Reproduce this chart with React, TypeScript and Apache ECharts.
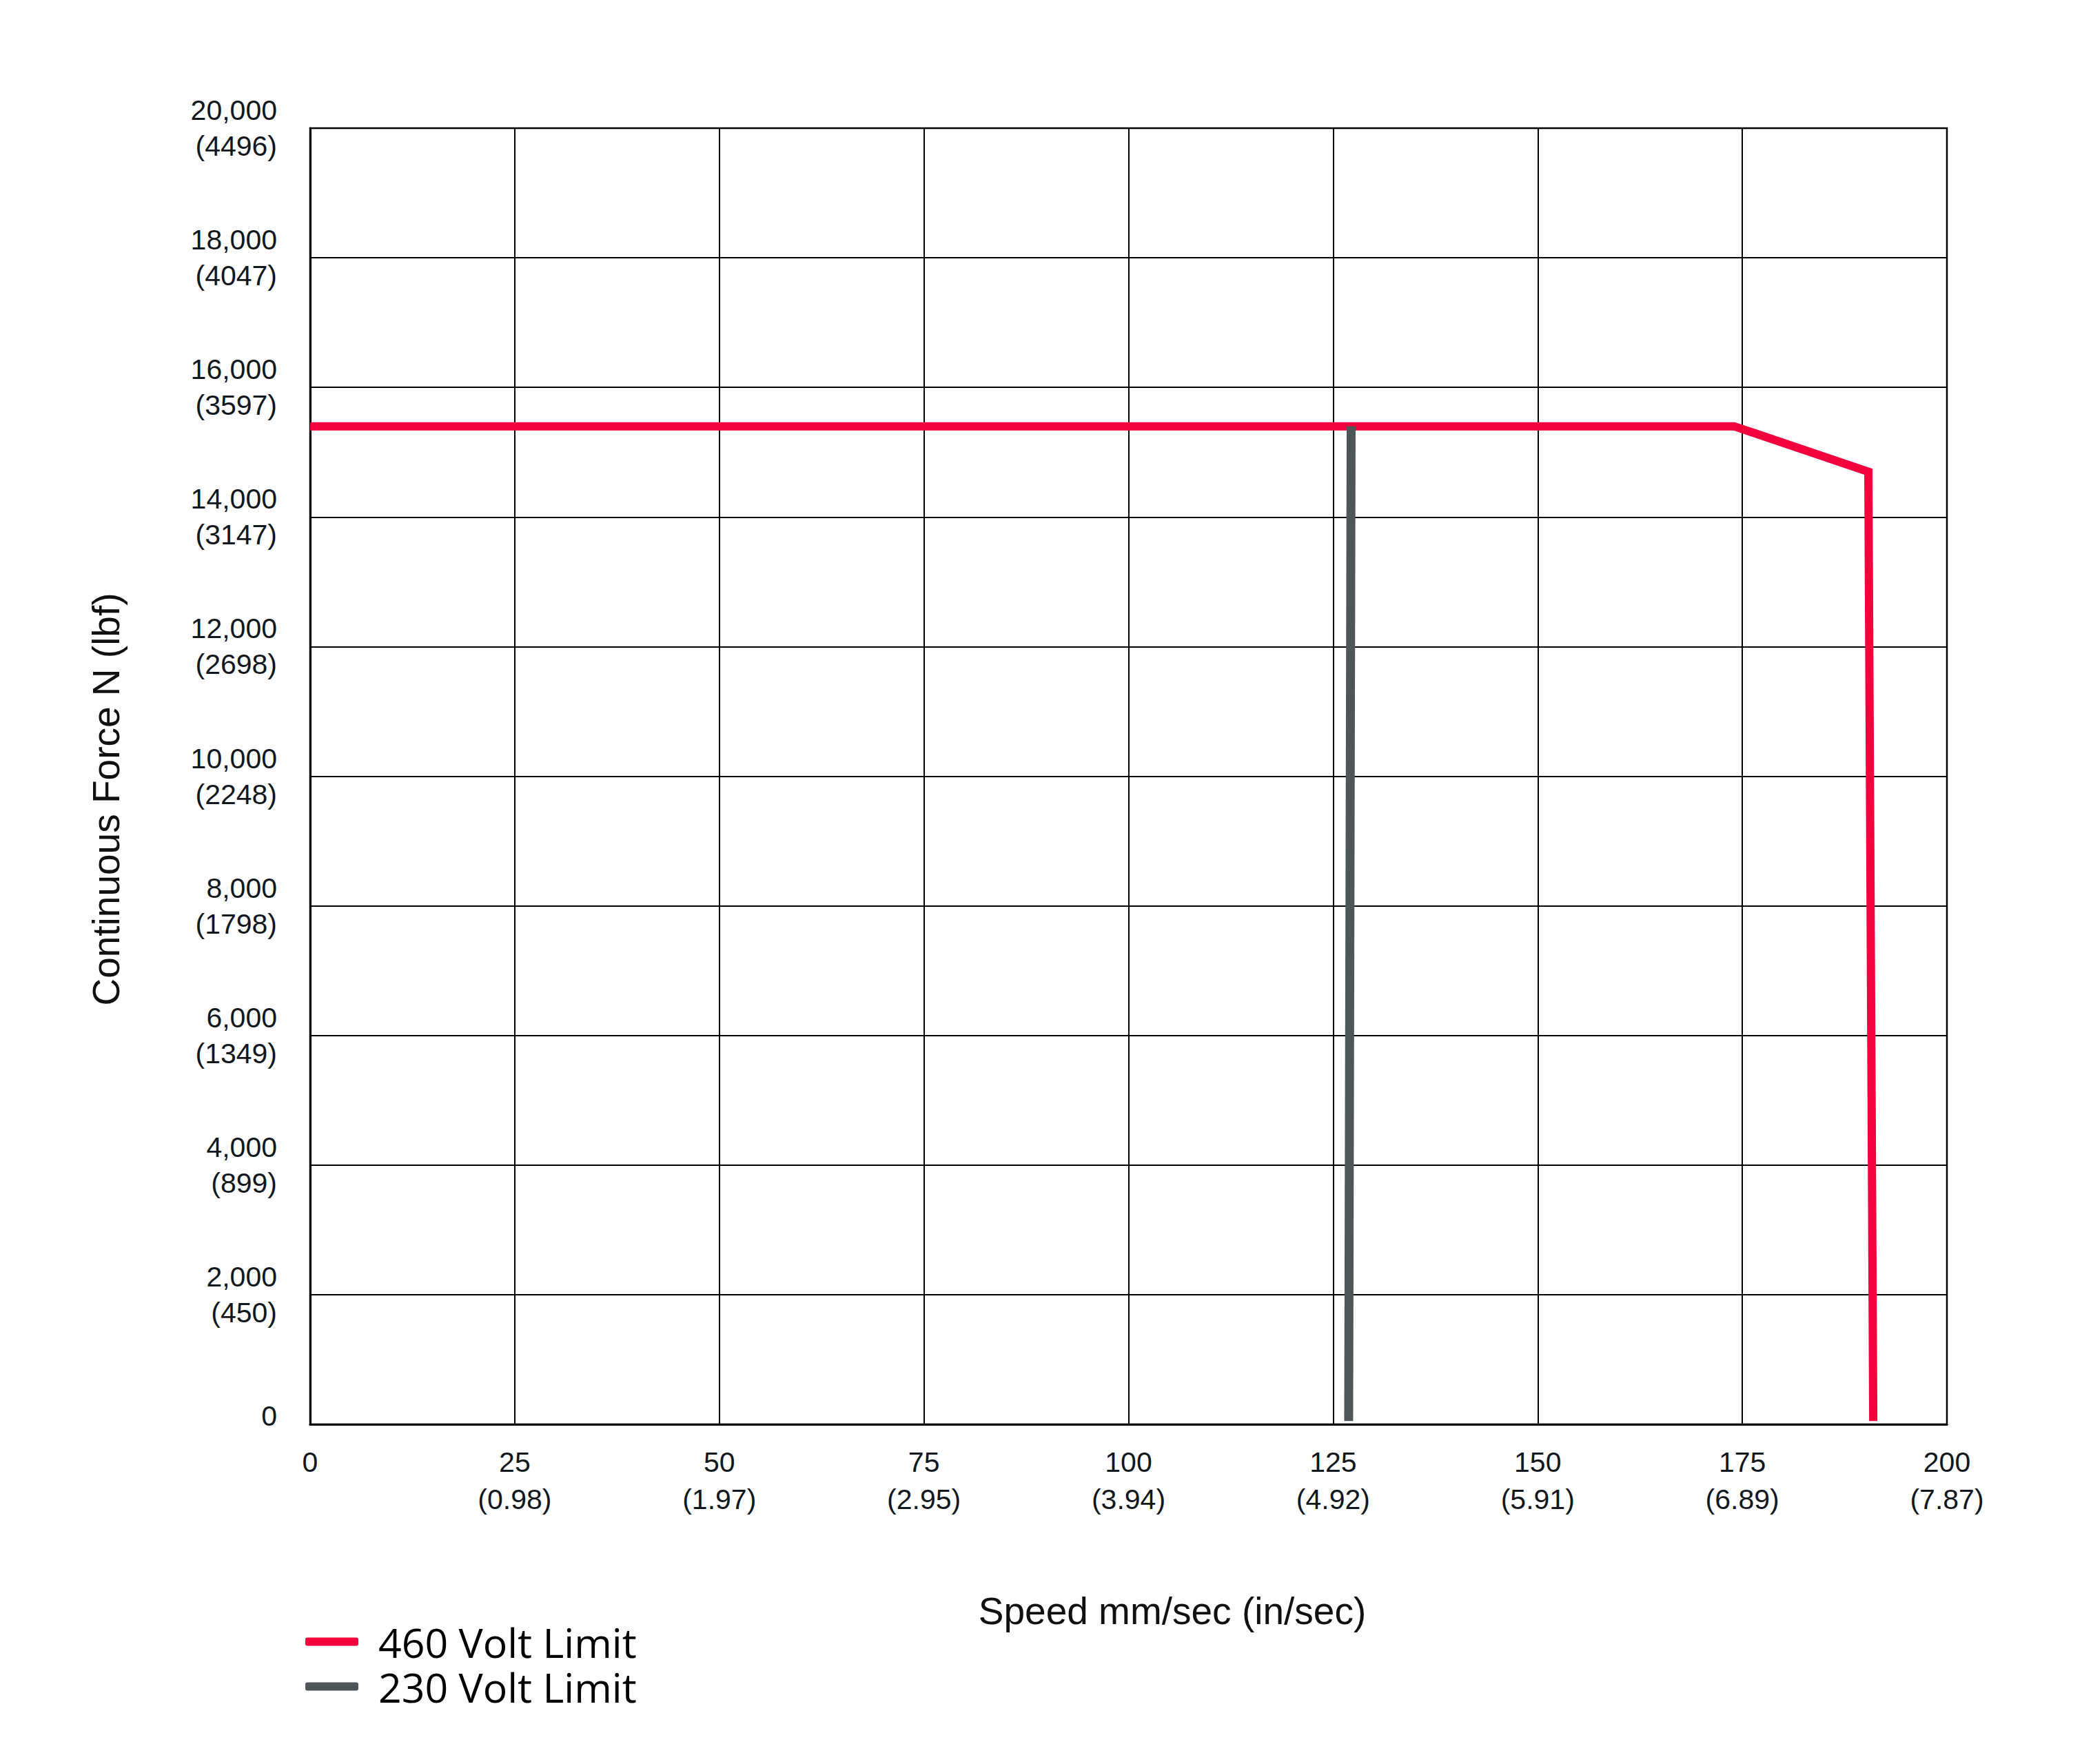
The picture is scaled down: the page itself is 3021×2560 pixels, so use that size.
import React, { useEffect, useRef } from "react";
import * as echarts from "echarts";

// ---- data ----
const speed460 = [0, 174, 190.4, 191];
const force460 = [15400, 15400, 14700, 50];
const speed230 = [127.2, 126.9];
const force230 = [15400, 50];

const xTicks = [0, 25, 50, 75, 100, 125, 150, 175, 200];
const xTickInch = ["", "(0.98)", "(1.97)", "(2.95)", "(3.94)", "(4.92)", "(5.91)", "(6.89)", "(7.87)"];
const yTicks = [0, 2000, 4000, 6000, 8000, 10000, 12000, 14000, 16000, 18000, 20000];
const yTickN = ["0", "2,000", "4,000", "6,000", "8,000", "10,000", "12,000", "14,000", "16,000", "18,000", "20,000"];
const yTickLbf = ["", "(450)", "(899)", "(1349)", "(1798)", "(2248)", "(2698)", "(3147)", "(3597)", "(4047)", "(4496)"];

const seriesNames = ["460 Volt Limit", "230 Volt Limit"];
const xTitle = "Speed mm/sec (in/sec)";
const yTitle = "Continuous Force N (lbf)";

const RED = "#F4003C";
const GRAY = "#4E5757";
const FONT = "'Liberation Sans', Arial, sans-serif";

export default function App() {
  const ref = useRef<HTMLDivElement>(null);
  useEffect(() => {
    if (!ref.current) return;
    const chart = echarts.init(ref.current, undefined, { renderer: "svg" });
    const zip = (xs: number[], ys: number[]) => xs.map((x, i) => [x, ys[i]]);
    chart.setOption({
      animation: false,
      backgroundColor: "#ffffff",
      grid: {
        left: 450,
        top: 186,
        right: 196,
        bottom: 493,
        show: true,
        borderColor: "#000",
        borderWidth: 2.5,
        containLabel: false,
      },
      xAxis: {
        type: "value",
        min: 0,
        max: 200,
        interval: 25,
        axisLine: { show: true, lineStyle: { color: "#000", width: 3 } },
        axisTick: { show: false },
        splitLine: { show: true, lineStyle: { color: "#000", width: 2 } },
        axisLabel: {
          margin: 28,
          fontFamily: FONT,
          fontSize: 41,
          lineHeight: 54,
          color: "#111820",
          formatter: (v: number) => {
            const i = xTicks.indexOf(v);
            if (i < 0) return "";
            return xTickInch[i] ? `${xTicks[i]}\n${xTickInch[i]}` : `${xTicks[i]}`;
          },
        },
      },
      yAxis: {
        type: "value",
        min: 0,
        max: 20000,
        interval: 2000,
        axisLine: { show: true, lineStyle: { color: "#000", width: 3 } },
        axisTick: { show: false },
        splitLine: { show: true, lineStyle: { color: "#000", width: 2 } },
        axisLabel: {
          margin: 48,
          fontFamily: FONT,
          fontSize: 41,
          lineHeight: 52,
          color: "#111820",
          formatter: (v: number) => {
            const i = yTicks.indexOf(v);
            if (i < 0) return "";
            return yTickLbf[i] ? `${yTickN[i]}\n${yTickLbf[i]}` : `{z|${yTickN[i]}}`;
          },
          rich: {
            z: {
              fontFamily: FONT,
              fontSize: 41,
              lineHeight: 52,
              color: "#111820",
              padding: [0, 0, 24, 0],
            },
          },
        },
      },
      legend: {
        orient: "vertical",
        left: 443,
        top: 2350,
        padding: 0,
        data: seriesNames,
        icon: "roundRect",
        itemWidth: 77,
        itemHeight: 12,
        itemGap: 0,
        textStyle: {
          fontFamily: "'Open Sans', 'Noto Sans', sans-serif",
          fontSize: 59,
          lineHeight: 65,
          color: "#000",
          padding: [0, 0, 0, 24],
        },
      },
      graphic: [
        {
          type: "text",
          x: 1701,
          y: 2338,
          style: {
            text: xTitle,
            fontFamily: FONT,
            fontSize: 55,
            fill: "#111",
            align: "center",
            verticalAlign: "middle",
          },
        },
        {
          type: "text",
          x: 154,
          y: 1160,
          rotation: Math.PI / 2,
          style: {
            text: yTitle,
            fontFamily: FONT,
            fontSize: 55,
            fill: "#111",
            align: "center",
            verticalAlign: "middle",
          },
        },
      ],
      series: [
        {
          name: seriesNames[0],
          type: "line",
          data: zip(speed460, force460),
          showSymbol: false,
          symbol: "none",
          color: RED,
          lineStyle: { color: RED, width: 12, join: "miter", cap: "butt" },
          z: 3,
        },
        {
          name: seriesNames[1],
          type: "line",
          data: zip(speed230, force230),
          showSymbol: false,
          symbol: "none",
          color: GRAY,
          lineStyle: { color: GRAY, width: 13, join: "miter", cap: "butt" },
          z: 4,
        },
      ],
    });
    return () => chart.dispose();
  }, []);
  return (
    <div
      ref={ref}
      style={{ position: "absolute", left: 0, top: 0, width: 3021, height: 2560 }}
    />
  );
}
